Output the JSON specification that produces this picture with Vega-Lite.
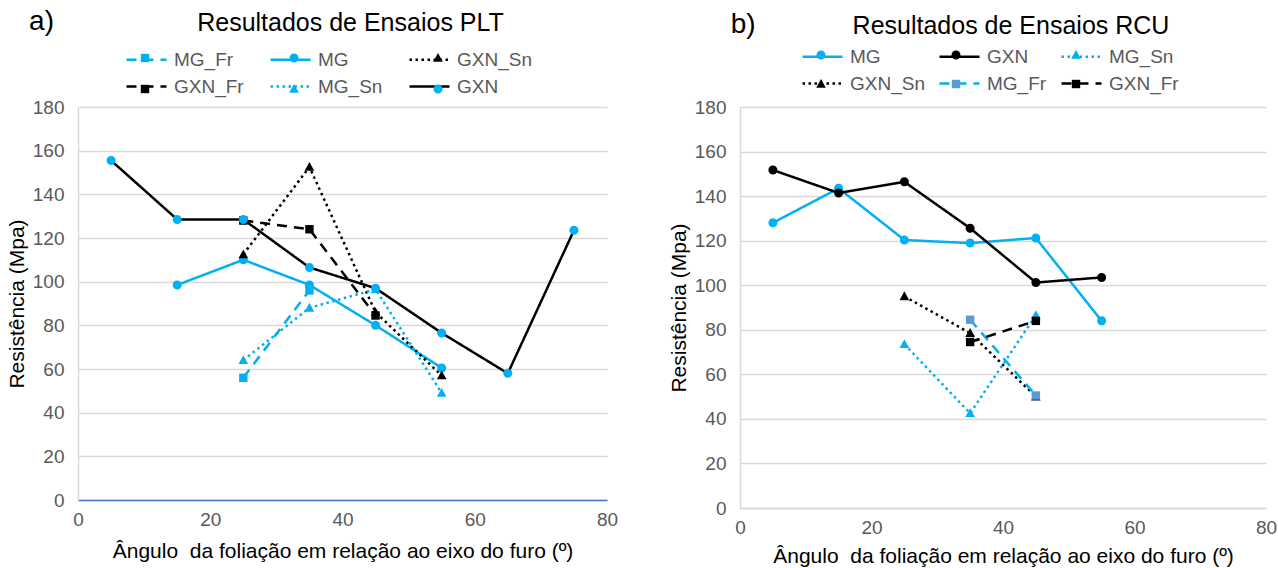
{
  "$schema": "https://vega.github.io/schema/vega-lite/v6.json",
  "background": "white",
  "padding": {"left": 6, "top": 7, "right": 5, "bottom": 5},
  "config": {
    "font": "Liberation Sans",
    "view": {"stroke": null},
    "axis": {"labelFont": "Liberation Sans", "titleFont": "Liberation Sans", "labelColor": "#595959", "labelFontSize": 19, "titleFontSize": 21, "titleFontWeight": "normal", "titleColor": "#000000", "ticks": false, "domainColor": "#D9D9D9", "domainWidth": 1.5, "gridColor": "#D9D9D9", "gridWidth": 1.3},
    "axisX": {"grid": false, "labelPadding": 10, "titlePadding": 11, "labelFlush": false},
    "axisY": {"labelPadding": 14, "titlePadding": 5},
    "title": {"font": "Liberation Sans", "fontSize": 25, "fontWeight": "normal", "color": "#000000"},
    "legend": {"labelFont": "Liberation Sans", "labelFontSize": 19, "labelColor": "#595959"}
  },
  "datasets": {
    "plt": [
      {"s": "MG_Fr", "a": 25, "r": 56}, {"s": "MG_Fr", "a": 35, "r": 96},
      {"s": "MG", "a": 15, "r": 98.5}, {"s": "MG", "a": 25, "r": 110}, {"s": "MG", "a": 35, "r": 98.5}, {"s": "MG", "a": 45, "r": 80}, {"s": "MG", "a": 55, "r": 60.5},
      {"s": "GXN_Sn", "a": 25, "r": 112.5}, {"s": "GXN_Sn", "a": 35, "r": 152.5}, {"s": "GXN_Sn", "a": 45, "r": 86}, {"s": "GXN_Sn", "a": 55, "r": 57},
      {"s": "GXN_Fr", "a": 25, "r": 128}, {"s": "GXN_Fr", "a": 35, "r": 124}, {"s": "GXN_Fr", "a": 45, "r": 84.5},
      {"s": "MG_Sn", "a": 25, "r": 64}, {"s": "MG_Sn", "a": 35, "r": 88}, {"s": "MG_Sn", "a": 45, "r": 96.5}, {"s": "MG_Sn", "a": 55, "r": 49},
      {"s": "GXN", "a": 5, "r": 155.5}, {"s": "GXN", "a": 15, "r": 128.5}, {"s": "GXN", "a": 25, "r": 128.5}, {"s": "GXN", "a": 35, "r": 106.5}, {"s": "GXN", "a": 45, "r": 97}, {"s": "GXN", "a": 55, "r": 76.5}, {"s": "GXN", "a": 65, "r": 58}, {"s": "GXN", "a": 75, "r": 123.5}
    ],
    "rcu": [
      {"s": "MG", "a": 5, "r": 128}, {"s": "MG", "a": 15, "r": 143.5}, {"s": "MG", "a": 25, "r": 120.3}, {"s": "MG", "a": 35, "r": 118.9}, {"s": "MG", "a": 45, "r": 121.2}, {"s": "MG", "a": 55, "r": 84},
      {"s": "GXN", "a": 5, "r": 151.7}, {"s": "GXN", "a": 15, "r": 141.4}, {"s": "GXN", "a": 25, "r": 146.4}, {"s": "GXN", "a": 35, "r": 125.6}, {"s": "GXN", "a": 45, "r": 101.2}, {"s": "GXN", "a": 55, "r": 103.5},
      {"s": "MG_Sn", "a": 25, "r": 73.5}, {"s": "MG_Sn", "a": 35, "r": 42.5}, {"s": "MG_Sn", "a": 45, "r": 86.5},
      {"s": "GXN_Sn", "a": 25, "r": 95}, {"s": "GXN_Sn", "a": 35, "r": 78.5}, {"s": "GXN_Sn", "a": 45, "r": 50},
      {"s": "MG_Fr", "a": 35, "r": 84.5}, {"s": "MG_Fr", "a": 45, "r": 50.5},
      {"s": "GXN_Fr", "a": 35, "r": 74.5}, {"s": "GXN_Fr", "a": 45, "r": 84}
    ]
  },
  "spacing": 50,
  "resolve": {
    "scale": {"x": "independent", "y": "independent", "stroke": "independent", "strokeDash": "independent", "fill": "independent", "shape": "independent"},
    "legend": {"stroke": "independent", "strokeDash": "independent", "fill": "independent", "shape": "independent"}
  },
  "hconcat": [
    {
      "width": 529,
      "height": 393,
      "title": {"text": "Resultados de Ensaios PLT", "offset": -28, "dx": 8},
      "layer": [
        {
          "data": {"name": "plt"},
          "mark": {"type": "line", "strokeWidth": 2.5},
          "encoding": {
            "x": {"field": "a", "type": "quantitative", "scale": {"domain": [0, 80]}, "axis": {"values": [0, 20, 40, 60, 80], "domainColor": "#4472C4", "domainWidth": 1.5}, "title": "Ângulo\u00a0 da foliação em relação ao eixo do furo (º)"},
            "y": {"field": "r", "type": "quantitative", "scale": {"domain": [0, 180]}, "axis": {"values": [0, 20, 40, 60, 80, 100, 120, 140, 160, 180]}, "title": "Resistência (Mpa)"},
            "stroke": {"field": "s", "type": "nominal", "scale": {"domain": ["MG_Fr", "MG", "GXN_Sn", "GXN_Fr", "MG_Sn", "GXN"], "range": ["#00B0F0", "#00B0F0", "#000000", "#000000", "#00B0F0", "#000000"]},
              "legend": {"orient": "none", "legendX": 57, "legendY": -59, "columns": 3, "direction": "horizontal", "title": null, "padding": 0, "symbolSize": 400, "symbolType": "M-2,-1M-2,0H2M2,1", "symbolStrokeWidth": 2.5, "labelOffset": 16, "columnPadding": 21, "rowPadding": -4}},
            "strokeDash": {"field": "s", "type": "nominal", "scale": {"domain": ["MG_Fr", "MG", "GXN_Sn", "GXN_Fr", "MG_Sn", "GXN"], "range": [[10, 7], [1, 0], [2.5, 3.5], [10, 7], [2.5, 3.5], [1, 0]]},
              "legend": {"orient": "none", "legendX": 57, "legendY": -59, "columns": 3, "direction": "horizontal", "title": null, "padding": 0, "symbolSize": 400, "symbolType": "M-2,-1M-2,0H2M2,1", "symbolStrokeWidth": 2.5, "labelOffset": 16, "columnPadding": 21, "rowPadding": -4}}
          }
        },
        {
          "data": {"name": "plt"},
          "mark": {"type": "point", "filled": true, "size": 400, "opacity": 1, "strokeWidth": 0},
          "encoding": {
            "x": {"field": "a", "type": "quantitative", "title": "Ângulo\u00a0 da foliação em relação ao eixo do furo (º)"},
            "y": {"field": "r", "type": "quantitative", "title": "Resistência (Mpa)"},
            "fill": {"field": "s", "type": "nominal", "scale": {"domain": ["MG_Fr", "MG", "GXN_Sn", "GXN_Fr", "MG_Sn", "GXN", "zz"], "range": ["#00B0F0", "#00B0F0", "#000000", "#000000", "#00B0F0", "#00B0F0", "#FFFFFF"]},
              "legend": {"orient": "none", "legendX": 57, "legendY": -59, "columns": 3, "direction": "horizontal", "title": null, "padding": 0, "symbolSize": 400, "symbolStrokeWidth": 0, "labelOffset": 16, "columnPadding": 33, "rowPadding": 11, "labelOpacity": 0, "values": ["MG_Fr", "MG", "GXN_Sn", "GXN_Fr", "MG_Sn", "GXN"]}},
            "shape": {"field": "s", "type": "nominal", "scale": {"domain": ["MG_Fr", "MG", "GXN_Sn", "GXN_Fr", "MG_Sn", "GXN", "zz"], "range": ["M-2,-1M2,1M-0.42,-0.42H0.42V0.42H-0.42Z", "M-2,-1M2,1M0.45,0A0.45,0.45,0,1,1,-0.45,0A0.45,0.45,0,1,1,0.45,0Z", "M-2,-1M2,1M0,-0.5L0.48,0.38H-0.48Z", "M-2,-1M2,1M-0.42,-0.42H0.42V0.42H-0.42Z", "M-2,-1M2,1M0,-0.5L0.48,0.38H-0.48Z", "M-2,-1M2,1M0.45,0A0.45,0.45,0,1,1,-0.45,0A0.45,0.45,0,1,1,0.45,0Z", "circle"]},
              "legend": {"orient": "none", "legendX": 57, "legendY": -59, "columns": 3, "direction": "horizontal", "title": null, "padding": 0, "symbolSize": 400, "symbolStrokeWidth": 0, "labelOffset": 16, "columnPadding": 33, "rowPadding": 11, "labelOpacity": 0, "values": ["MG_Fr", "MG", "GXN_Sn", "GXN_Fr", "MG_Sn", "GXN"]}}
          }
        },
        {
          "data": {"values": [{"t": "a)"}]},
          "mark": {"type": "text", "fontSize": 28, "align": "left", "baseline": "middle", "color": "#000000", "font": "Liberation Sans"},
          "encoding": {
            "x": {"datum": -7.4, "type": "quantitative", "title": "Ângulo\u00a0 da foliação em relação ao eixo do furo (º)"},
            "y": {"datum": 219, "type": "quantitative", "title": "Resistência (Mpa)"},
            "text": {"field": "t"}
          }
        }
      ]
    },
    {
      "width": 526,
      "height": 401,
      "title": {"text": "Resultados de Ensaios RCU", "offset": -28, "dx": 8},
      "layer": [
        {
          "data": {"name": "rcu"},
          "mark": {"type": "line", "strokeWidth": 2.5},
          "encoding": {
            "x": {"field": "a", "type": "quantitative", "scale": {"domain": [0, 80]}, "axis": {"values": [0, 20, 40, 60, 80], "titlePadding": 8}, "title": "Ângulo\u00a0 da foliação em relação ao eixo do furo (º)"},
            "y": {"field": "r", "type": "quantitative", "scale": {"domain": [0, 180]}, "axis": {"values": [0, 20, 40, 60, 80, 100, 120, 140, 160, 180]}, "title": "Resistência (Mpa)"},
            "stroke": {"field": "s", "type": "nominal", "scale": {"domain": ["MG", "GXN", "MG_Sn", "GXN_Sn", "MG_Fr", "GXN_Fr"], "range": ["#00B0F0", "#000000", "#00B0F0", "#000000", "#00B0F0", "#000000"]},
              "legend": {"orient": "none", "legendX": 71, "legendY": -62, "columns": 3, "direction": "horizontal", "title": null, "padding": 0, "symbolSize": 400, "symbolType": "M-2,-1M-2,0H2M2,1", "symbolStrokeWidth": 2.5, "labelOffset": 16, "columnPadding": 9, "rowPadding": -4}},
            "strokeDash": {"field": "s", "type": "nominal", "scale": {"domain": ["MG", "GXN", "MG_Sn", "GXN_Sn", "MG_Fr", "GXN_Fr"], "range": [[1, 0], [1, 0], [2.5, 3.5], [2.5, 3.5], [10, 7], [10, 7]]},
              "legend": {"orient": "none", "legendX": 71, "legendY": -62, "columns": 3, "direction": "horizontal", "title": null, "padding": 0, "symbolSize": 400, "symbolType": "M-2,-1M-2,0H2M2,1", "symbolStrokeWidth": 2.5, "labelOffset": 16, "columnPadding": 9, "rowPadding": -4}}
          }
        },
        {
          "data": {"name": "rcu"},
          "mark": {"type": "point", "filled": true, "size": 400, "opacity": 1, "strokeWidth": 0},
          "encoding": {
            "x": {"field": "a", "type": "quantitative", "title": "Ângulo\u00a0 da foliação em relação ao eixo do furo (º)"},
            "y": {"field": "r", "type": "quantitative", "title": "Resistência (Mpa)"},
            "fill": {"field": "s", "type": "nominal", "scale": {"domain": ["MG", "GXN", "MG_Sn", "GXN_Sn", "MG_Fr", "GXN_Fr", "zz"], "range": ["#00B0F0", "#000000", "#00B0F0", "#000000", "#5B9BD5", "#000000", "#FFFFFF"]},
              "legend": {"orient": "none", "legendX": 71, "legendY": -62, "columns": 3, "direction": "horizontal", "title": null, "padding": 0, "symbolSize": 400, "symbolStrokeWidth": 0, "labelOffset": 16, "columnPadding": 14, "rowPadding": 9, "labelOpacity": 0, "values": ["MG", "GXN", "MG_Sn", "GXN_Sn", "MG_Fr", "GXN_Fr"]}},
            "shape": {"field": "s", "type": "nominal", "scale": {"domain": ["MG", "GXN", "MG_Sn", "GXN_Sn", "MG_Fr", "GXN_Fr", "zz"], "range": ["M-2,-1M2,1M0.45,0A0.45,0.45,0,1,1,-0.45,0A0.45,0.45,0,1,1,0.45,0Z", "M-2,-1M2,1M0.45,0A0.45,0.45,0,1,1,-0.45,0A0.45,0.45,0,1,1,0.45,0Z", "M-2,-1M2,1M0,-0.5L0.48,0.38H-0.48Z", "M-2,-1M2,1M0,-0.5L0.48,0.38H-0.48Z", "M-2,-1M2,1M-0.42,-0.42H0.42V0.42H-0.42Z", "M-2,-1M2,1M-0.42,-0.42H0.42V0.42H-0.42Z", "circle"]},
              "legend": {"orient": "none", "legendX": 71, "legendY": -62, "columns": 3, "direction": "horizontal", "title": null, "padding": 0, "symbolSize": 400, "symbolStrokeWidth": 0, "labelOffset": 16, "columnPadding": 14, "rowPadding": 9, "labelOpacity": 0, "values": ["MG", "GXN", "MG_Sn", "GXN_Sn", "MG_Fr", "GXN_Fr"]}}
          }
        },
        {
          "data": {"values": [{"t": "b)"}]},
          "mark": {"type": "text", "fontSize": 28, "align": "left", "baseline": "middle", "color": "#000000", "font": "Liberation Sans"},
          "encoding": {
            "x": {"datum": -1.4, "type": "quantitative", "title": "Ângulo\u00a0 da foliação em relação ao eixo do furo (º)"},
            "y": {"datum": 217, "type": "quantitative", "title": "Resistência (Mpa)"},
            "text": {"field": "t"}
          }
        }
      ]
    }
  ]
}
